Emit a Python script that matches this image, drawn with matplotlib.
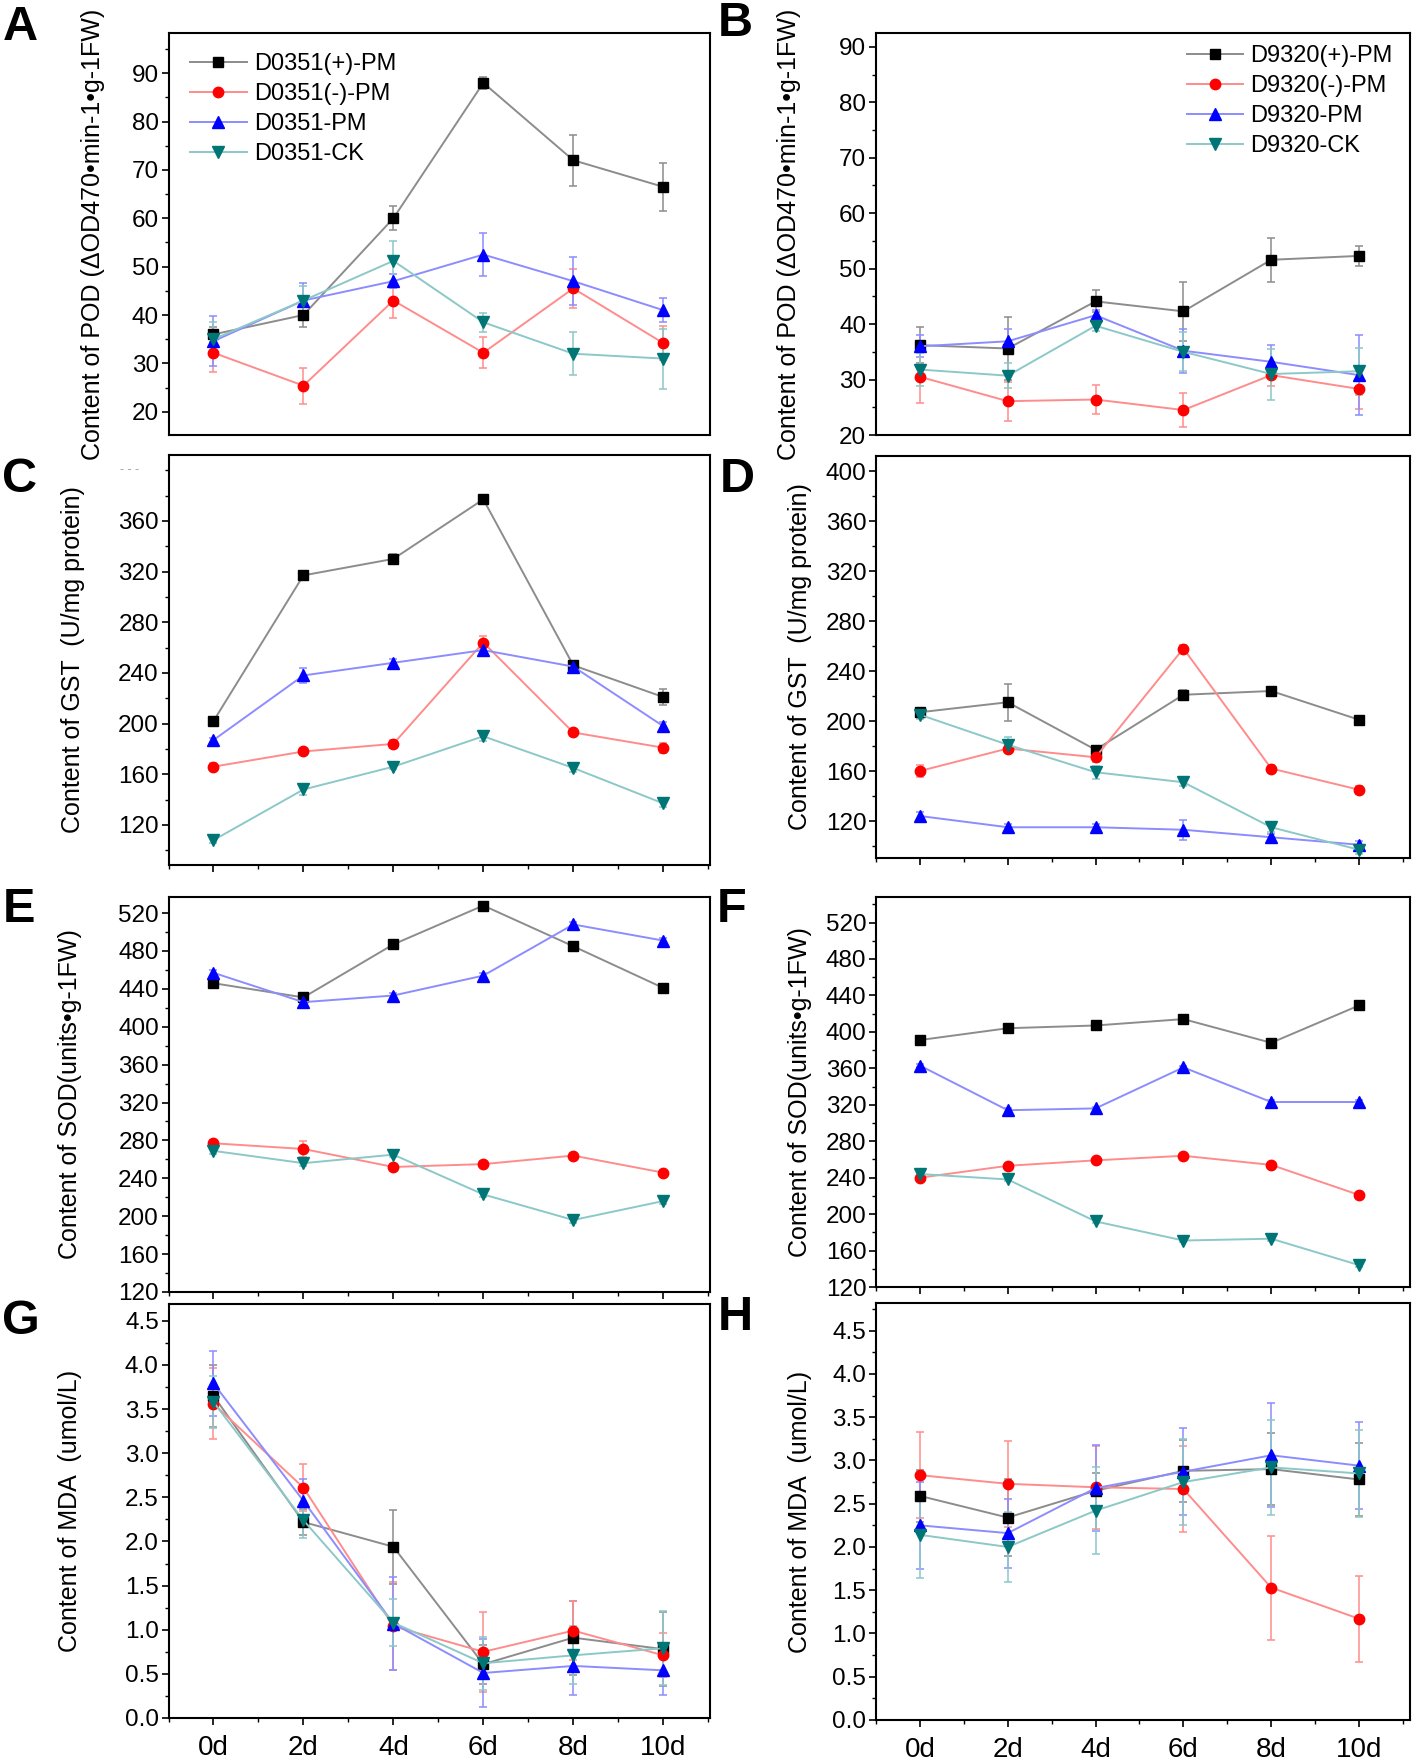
import numpy as np
import matplotlib
matplotlib.use('Agg')
import matplotlib.pyplot as plt
from matplotlib.ticker import MultipleLocator, AutoMinorLocator

plt.rcParams['font.family'] = ['Liberation Sans', 'DejaVu Sans']

days = ['0d', '2d', '4d', '6d', '8d', '10d']
names_d0351 = ['D0351(+)-PM', 'D0351(-)-PM', 'D0351-PM', 'D0351-CK']
names_d9320 = ['D9320(+)-PM', 'D9320(-)-PM', 'D9320-PM', 'D9320-CK']

# rows: (+)-PM, (-)-PM, PM, CK
pod_d0351 = [[36.0, 40.0, 60.0, 88.0, 72.0, 66.5],
             [32.2, 25.4, 43.0, 32.2, 45.5, 34.2],
             [34.6, 43.0, 47.0, 52.5, 47.0, 41.0],
             [35.0, 43.0, 51.2, 38.5, 32.0, 31.0]]
pod_d0351_err = [[1.5, 2.5, 2.5, 1.2, 5.3, 5.0],
                 [4.0, 3.7, 3.6, 3.2, 4.0, 3.5],
                 [5.2, 3.6, 1.5, 4.5, 5.0, 2.5],
                 [3.5, 3.0, 4.2, 2.0, 4.5, 6.2]]

pod_d9320 = [[36.2, 35.6, 44.1, 42.3, 51.6, 52.3],
             [30.5, 26.1, 26.4, 24.5, 30.8, 28.3],
             [36.0, 36.9, 41.6, 35.2, 33.2, 30.8],
             [31.8, 30.7, 39.7, 35.0, 31.0, 31.5]]
pod_d9320_err = [[3.3, 5.6, 2.0, 5.3, 4.0, 1.8],
                 [4.7, 3.5, 2.7, 3.0, 2.0, 3.6],
                 [2.0, 2.2, 1.0, 4.0, 3.0, 7.2],
                 [3.0, 2.2, 1.0, 3.5, 4.6, 4.2]]

gst_d0351 = [[202, 317, 330, 377, 246, 221],
             [166, 178, 184, 264, 193, 181],
             [187, 238, 248, 258, 245, 198],
             [108, 148, 166, 190, 165, 137]]
gst_d0351_err = [[3, 2, 4, 2, 2, 6],
                 [3, 2, 3, 5, 3, 4],
                 [2, 6, 3, 5, 3, 3],
                 [2, 4, 2, 4, 3, 3]]

gst_d9320 = [[207, 215, 177, 221, 224, 201],
             [160, 178, 171, 258, 162, 145],
             [124, 115, 115, 113, 107, 101],
             [205, 181, 159, 151, 115, 97]]
gst_d9320_err = [[3, 15, 3, 4, 3, 3],
                 [5, 3, 4, 3, 3, 3],
                 [3, 3, 3, 8, 3, 3],
                 [3, 6, 5, 3, 4, 3]]

sod_d0351 = [[446, 431, 487, 528, 485, 441],
             [277, 271, 252, 255, 264, 246],
             [457, 426, 433, 454, 508, 491],
             [269, 256, 265, 223, 196, 216]]
sod_d0351_err = [[3, 3, 4, 3, 3, 4],
                 [3, 8, 3, 3, 3, 3],
                 [3, 3, 3, 3, 3, 3],
                 [3, 3, 3, 3, 3, 3]]

sod_d9320 = [[391, 404, 407, 414, 388, 429],
             [240, 253, 259, 264, 254, 221],
             [363, 314, 316, 361, 323, 323],
             [244, 238, 192, 171, 173, 144]]
sod_d9320_err = [[2, 2, 2, 2, 2, 2],
                 [2, 2, 2, 2, 2, 2],
                 [2, 2, 2, 2, 2, 2],
                 [2, 2, 2, 2, 2, 2]]

mda_d0351 = [[3.65, 2.22, 1.94, 0.61, 0.91, 0.78],
             [3.56, 2.61, 1.04, 0.75, 0.99, 0.71],
             [3.79, 2.46, 1.07, 0.51, 0.59, 0.54],
             [3.58, 2.24, 1.08, 0.62, 0.71, 0.79]]
mda_d0351_err = [[0.35, 0.15, 0.42, 0.22, 0.42, 0.42],
                 [0.40, 0.27, 0.50, 0.45, 0.33, 0.25],
                 [0.37, 0.25, 0.53, 0.38, 0.33, 0.28],
                 [0.30, 0.20, 0.27, 0.30, 0.33, 0.42]]

mda_d9320 = [[2.59, 2.34, 2.65, 2.88, 2.90, 2.78],
             [2.83, 2.73, 2.69, 2.67, 1.53, 1.17],
             [2.25, 2.16, 2.68, 2.87, 3.06, 2.94],
             [2.14, 2.00, 2.42, 2.75, 2.92, 2.85]]
mda_d9320_err = [[0.30, 0.45, 0.20, 0.36, 0.42, 0.42],
                 [0.50, 0.50, 0.48, 0.50, 0.60, 0.50],
                 [0.50, 0.40, 0.50, 0.50, 0.60, 0.50],
                 [0.50, 0.40, 0.50, 0.50, 0.55, 0.50]]

line_colors = ['#8c8c8c', '#ff8c8c', '#8c8cff', '#8cc8c8']
marker_colors = ['black', 'red', 'blue', '#007575']
markers = ['s', 'o', '^', 'v']
msizes = [6.5, 7.5, 8.5, 8.5]

W, H = 1418, 1762
fig = plt.figure(figsize=(W / 100, H / 100), dpi=100)


def add_ax(left, top, right, bottom):
    return fig.add_axes([left / W, 1 - bottom / H, (right - left) / W, (bottom - top) / H])


def draw(ax, vals, errs, ylim, step, ylabel, lab_x, xlim, xticks='marks', names=None, legend_loc=None):
    x = np.arange(len(days))
    for i in range(4):
        ax.errorbar(x, vals[i], yerr=errs[i], fmt='none', ecolor=line_colors[i],
                    elinewidth=1.1, capsize=3, capthick=1.1, zorder=2)
    for i in range(4):
        ax.plot(x, vals[i], color=line_colors[i], lw=1.4, marker=markers[i], ms=msizes[i],
                mfc=marker_colors[i], mec=marker_colors[i], label=names[i] if names else None,
                zorder=3)
    ax.set_ylim(*ylim)
    ax.set_xlim(*xlim)
    ax.yaxis.set_major_locator(MultipleLocator(step))
    ax.yaxis.set_minor_locator(AutoMinorLocator(2))
    ax.tick_params(axis='y', which='major', direction='out', length=5, width=1.2,
                   labelsize=17.5, pad=2)
    ax.tick_params(axis='y', which='minor', direction='out', length=3, width=1)
    ax.set_xticks(x)
    ax.set_xticks(np.arange(-0.5, 5.6, 1.0), minor=True)
    if xticks == 'none':
        ax.tick_params(axis='x', which='both', length=0, labelbottom=False)
    elif xticks == 'marks':
        ax.tick_params(axis='x', which='major', direction='out', length=5, width=1.2,
                       labelbottom=False)
        ax.tick_params(axis='x', which='minor', direction='out', length=3, width=1)
    else:
        ax.set_xticklabels(days)
        ax.tick_params(axis='x', which='major', direction='out', length=5, width=1.2,
                       labelsize=20, pad=7)
        ax.tick_params(axis='x', which='minor', direction='out', length=3, width=1)
    for s in ax.spines.values():
        s.set_linewidth(1.5)
    ax.set_ylabel(ylabel, fontsize=18)
    ax.yaxis.set_label_coords(lab_x, 0.5)
    if names:
        ax.legend(loc=legend_loc[0], bbox_to_anchor=legend_loc[1], frameon=False,
                  fontsize=17, handlelength=2.4, handletextpad=0.3, labelspacing=0.34,
                  borderpad=0, borderaxespad=0)


L1, R1 = 168.5, 710
L2, R2 = 876, 1410
xl1 = (-0.5, 5.52)
xl2 = (-0.5, 5.58)

pod_label = 'Content of POD (\u0394OD470\u2022min-1\u2022g-1FW)'
gst_label = 'Content of GST  (U/mg protein)'
sod_label = 'Content of SOD(units\u2022g-1FW)'
mda_label = 'Content of MDA  (umol/L)'

ax_a = add_ax(L1, 33, R1, 435)
draw(ax_a, pod_d0351, pod_d0351_err, (15.2, 98.3), 10, pod_label, -0.117, xl1, 'none',
     names_d0351, ('upper left', (0.04, 0.95)))
ax_b = add_ax(L2, 33, R2, 435)
draw(ax_b, pod_d9320, pod_d9320_err, (20, 92.5), 10, pod_label, -0.14, xl2, 'none',
     names_d9320, ('upper right', (0.968, 0.97)))

ax_c = add_ax(L1, 455, R1, 865)
draw(ax_c, gst_d0351, gst_d0351_err, (88.4, 412), 40, gst_label, -0.155, xl1)
ax_c.set_yticks([120, 160, 200, 240, 280, 320, 360])
ax_c.text(-0.055, 400, '- - -', transform=ax_c.get_yaxis_transform(), ha='right',
          va='center', fontsize=9, color='#999999')
ax_d = add_ax(L2, 456, R2, 858)
draw(ax_d, gst_d9320, gst_d9320_err, (90.4, 412), 40, gst_label, -0.12, xl2)

ax_e = add_ax(L1, 897, R1, 1292)
draw(ax_e, sod_d0351, sod_d0351_err, (120, 537), 40, sod_label, -0.16, xl1)
ax_f = add_ax(L2, 897, R2, 1287)
draw(ax_f, sod_d9320, sod_d9320_err, (120, 548), 40, sod_label, -0.12, xl2)

ax_g = add_ax(L1, 1304, R1, 1718)
draw(ax_g, mda_d0351, mda_d0351_err, (0, 4.69), 0.5, mda_label, -0.16, xl1, 'labels')
ax_h = add_ax(L2, 1303, R2, 1720)
draw(ax_h, mda_d9320, mda_d9320_err, (0, 4.82), 0.5, mda_label, -0.12, xl2, 'labels')
for ax in (ax_g, ax_h):
    ax.yaxis.set_major_formatter(plt.FormatStrFormatter('%.1f'))

panel_letters = ['A', 'B', 'C', 'D', 'E', 'F', 'G', 'H']
letter_pos = [(20, 27), (735, 24), (20, 480), (737, 480),
              (19, 910), (732, 910), (21, 1322), (735, 1318)]
for t, (px, py) in zip(panel_letters, letter_pos):
    fig.text(px / W, 1 - py / H, t, ha='center', va='center', fontsize=35,
             fontweight='bold')

fig.savefig('out.png', dpi=100)
